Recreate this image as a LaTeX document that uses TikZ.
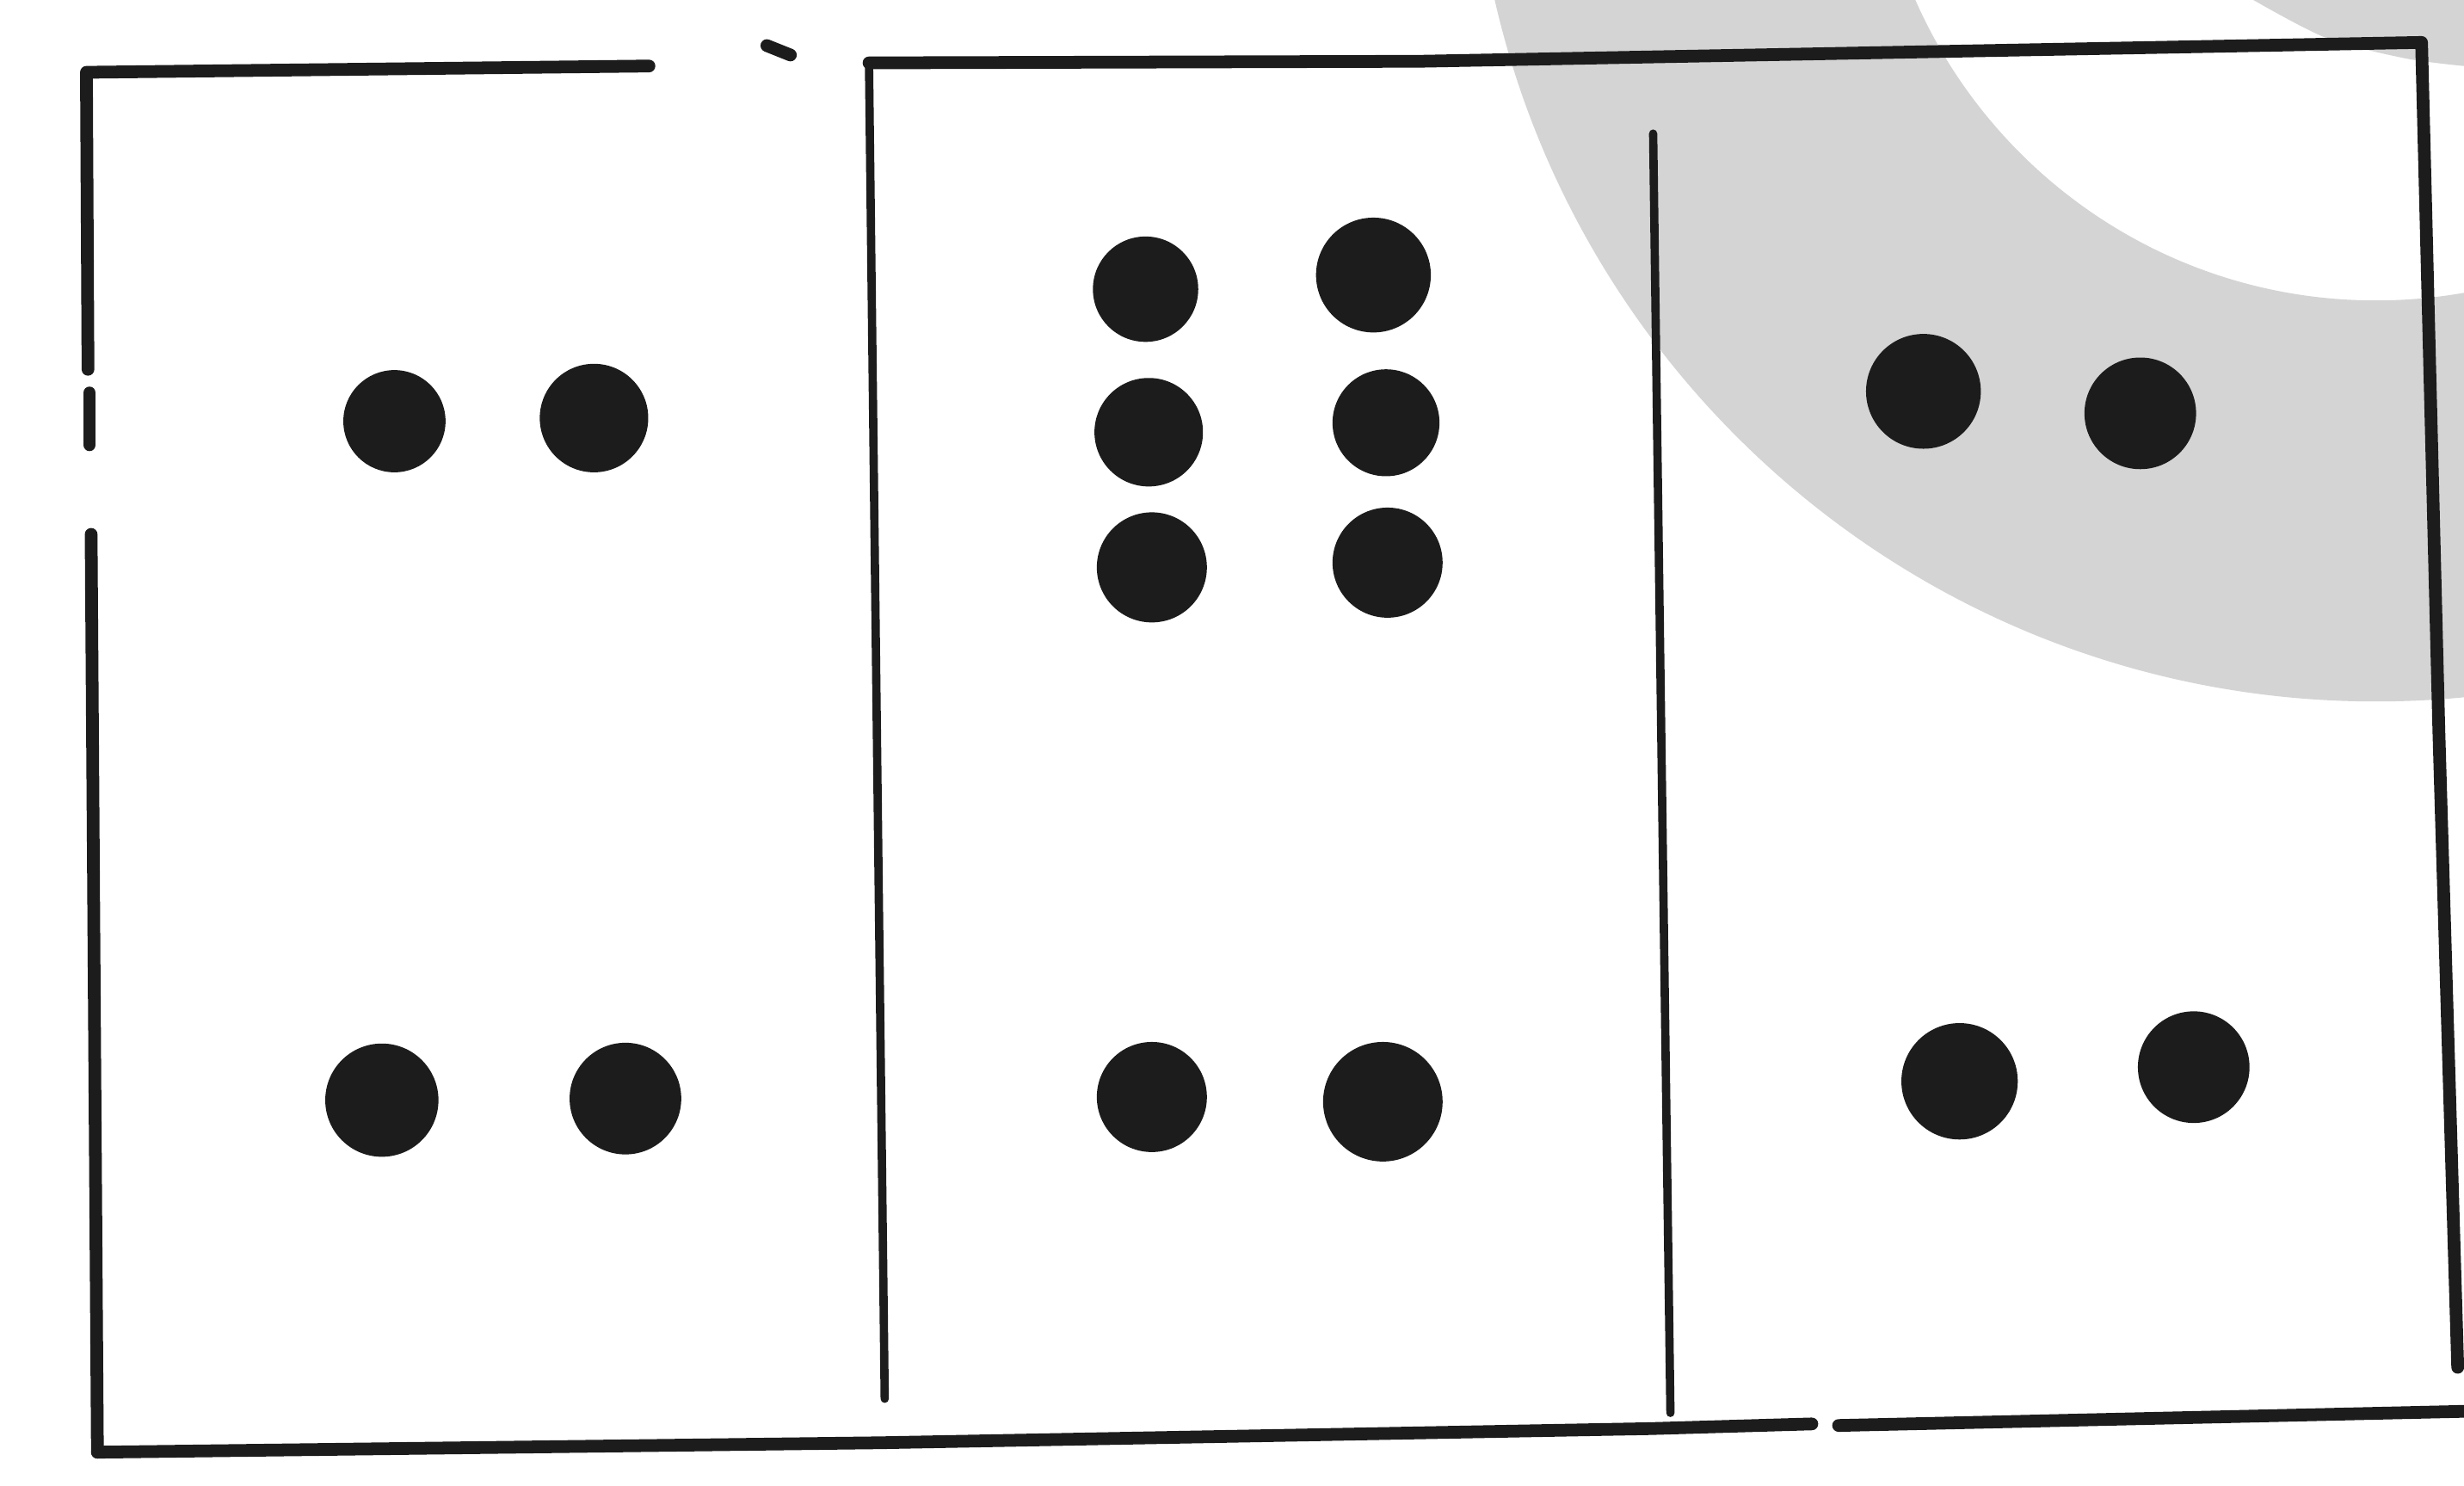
\documentclass[tikz,border=0pt]{standalone}
\usepackage{tikz}
\usetikzlibrary{positioning}
\definecolor{ringgray}{RGB}{212,212,212}
\definecolor{inkblack}{RGB}{28,28,28}

\begin{document}
\begin{tikzpicture}[x=0.01cm, y=-0.01cm,
  frame/.style={draw=inkblack, line width=2.3pt, line cap=round, line join=round},
  divider/.style={draw=inkblack, line width=1.5pt, line cap=round},
  pip/.style={circle, fill=inkblack, inner sep=0pt, minimum size=7mm},
]
\useasboundingbox (0,0) rectangle (1568,945);
\fill[white] (0,0) rectangle (1568,945);

% grey ring in the upper right
\begin{scope}
  \clip (0,0) rectangle (1568,945);
  \fill[ringgray, even odd rule] (1512,-129) circle [radius=5.75cm]
                                 (1512,-129) circle [radius=3.2cm];
  \fill[ringgray] plot[smooth] coordinates {(1434,0) (1480,24) (1530,37) (1568,42)}
    -- (1568,0) -- cycle;
\end{scope}

% outer frame
\draw[frame] (413,42) -- (55,46) -- (56,235);
\draw[frame] (57,250) -- (57,283);
\draw[frame] (58,340) -- (62,924);
\draw[frame] (488,29) -- (503,35);
\draw[frame] (553,40) -- (903,39) -- (1541,27) -- (1552,465) -- (1564,870);
\draw[frame] (62,924) -- (560,918) -- (1050,909) -- (1153,906);
\draw[frame] (1170,907) -- (1568,898);

% panel dividers
\draw[divider] (553,40) -- (563,890);
\draw[divider] (1052,85) -- (1063,899);

% left panel
\node[pip, minimum size=6.5mm] (L1) at (251,268) {};
\node[pip, minimum size=6.9mm] (L2) at (378,266) {};
\node[pip, minimum size=7.2mm] (L3) at (243,700) {};
\node[pip, minimum size=7.1mm] (L4) at (398,699) {};

% middle panel
\node[pip, minimum size=6.7mm] (M1) at (729,184) {};
\node[pip, minimum size=7.3mm] (M2) at (874,175) {};
\node[pip, minimum size=6.9mm] (M3) at (731,275) {};
\node[pip, minimum size=6.8mm] (M4) at (882,269) {};
\node[pip, minimum size=7.0mm] (M5) at (733,361) {};
\node[pip, minimum size=7.0mm] (M6) at (883,358) {};
\node[pip, minimum size=7.0mm] (M7) at (733,698) {};
\node[pip, minimum size=7.6mm] (M8) at (880,701) {};

% right panel
\node[pip, minimum size=7.3mm] (R1) at (1224,249) {};
\node[pip, minimum size=7.1mm] (R2) at (1362,263) {};
\node[pip, minimum size=7.4mm] (R3) at (1247,688) {};
\node[pip, minimum size=7.1mm] (R4) at (1396,679) {};
\end{tikzpicture}
\end{document}
